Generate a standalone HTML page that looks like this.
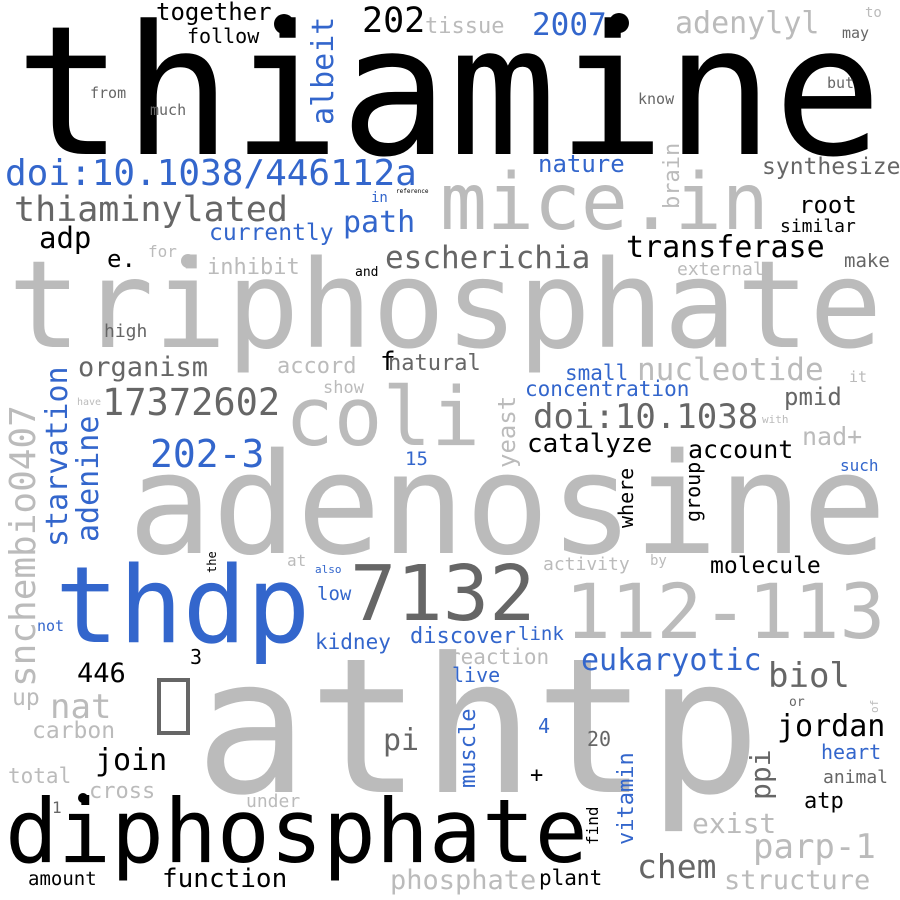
<!DOCTYPE html>
<html><head><meta charset="utf-8"><style>
html,body{margin:0;padding:0;background:#fff;}
svg{display:block;}
text{font-family:"DejaVu Sans Mono","Liberation Mono",monospace;}
</style></head><body>
<svg id="cloud" width="900" height="900" viewBox="0 0 900 900" xmlns="http://www.w3.org/2000/svg">
<rect width="900" height="900" fill="#fff"/>
<circle cx="284" cy="24" r="10" fill="#000"/>
<circle cx="619" cy="23" r="10" fill="#000"/>
<circle cx="188" cy="261" r="7" fill="#bbb"/>
<circle cx="83" cy="798" r="5" fill="#000"/>
<rect x="159" y="680" width="29" height="53" fill="none" stroke="#666" stroke-width="4"/>
</svg>
<script>
// word, x, baseline y, font size, color key, rotated
var K='#000',D='#666',L='#bbb',B='#3366cc';
var words=[
['thiamine',15,154,180,K,0],['triphosphate',8,347,121,L,0],['adenosine',128,553,140,L,0],
['athtp',195,792,188,L,0],['diphosphate',5,862,88,K,0],['thdp',55,642,106,B,0],
['7132',350,620,77,D,0],['112-113',565,638,76,L,0],['coli',285,445,81,L,0],
['mice.in',440,229,78,L,0],['doi:10.1038/446112a',5,185,36,B,0],['thiaminylated',14,221,35,D,0],
['17372602',102,415,37,D,0],['202-3',150,467,38,B,0],['doi:10.1038',533,428,34,D,0],
['escherichia',385,268,31,D,0],['nucleotide',637,380,31,L,0],['transferase',626,257,30,K,0],
['202',362,32,35,K,0],['2007',532,35,31,B,0],['adenylyl',675,33,30,L,0],['tissue',425,33,22,L,0],
['together',156,20,24,K,0],['follow',187,43,20,K,0],['nature',538,172,24,B,0],
['synthesize',762,174,23,D,0],['path',343,232,30,B,0],['currently',209,240,23,B,0],
['adp',39,248,29,K,0],['root',799,213,24,K,0],['similar',780,232,18,K,0],['e.',107,267,24,K,0],
['for',148,257,16,L,0],['inhibit',207,274,22,L,0],['and',355,276,13,K,0],['external',677,275,18,L,0],
['make',844,267,19,D,0],['high',104,337,18,D,0],['organism',78,376,27,D,0],['accord',277,373,22,L,0],
['f',380,370,26,K,0],['natural',388,370,22,D,0],['small',565,380,21,B,0],['concentration',525,396,21,B,0],
['it',849,382,15,L,0],['show',323,393,17,L,0],['pmid',784,405,24,D,0],['nad+',802,445,25,L,0],
['with',762,423,11,L,0],['have',77,405,10,L,0],['catalyze',527,452,26,K,0],['account',688,458,25,K,0],
['15',405,465,19,B,0],['such',840,471,16,B,0],['molecule',710,573,23,K,0],['activity',543,570,18,L,0],
['by',650,565,14,L,0],['at',287,566,16,L,0],['also',315,573,11,B,0],['low',317,600,19,B,0],
['not',37,631,15,B,0],['kidney',315,649,21,B,0],['discover',410,643,22,B,0],['link',518,640,19,B,0],
['3',190,664,20,K,0],['446',77,682,27,K,0],['reaction',448,664,21,L,0],['eukaryotic',581,670,30,B,0],
['live',452,682,20,B,0],['biol',768,687,34,D,0],['nat',50,718,34,L,0],['pi',383,750,30,D,0],
['4',538,733,20,B,0],['carbon',32,738,23,L,0],['20',587,746,20,D,0],['jordan',777,736,30,K,0],
['heart',821,759,20,B,0],['join',95,770,30,K,0],['total',8,783,21,L,0],['+',530,782,22,K,0],
['animal',823,783,18,D,0],['cross',89,798,22,L,0],['1',52,813,16,D,0],['under',246,807,18,L,0],
['atp',804,808,22,K,0],['exist',692,833,28,L,0],['parp-1',753,858,34,L,0],['chem',637,878,33,D,0],
['amount',28,885,19,K,0],['function',162,887,26,K,0],['phosphate',390,889,27,L,0],['plant',539,885,21,K,0],
['structure',724,889,27,L,0],['to',865,17,14,L,0],['may',842,38,15,D,0],['but',827,88,15,D,0],
['know',638,104,15,D,0],['from',90,98,15,D,0],['much',150,115,15,D,0],['in',371,202,14,B,0],
['reference',396,193,6,K,0],['or',789,706,13,D,0],['up',12,705,23,L,0],
// rotated: x = baseline x, y = bottom end
['albeit',333,125,30,B,1],['brain',679,209,22,L,1],['starvation',67,547,30,B,1],
['snchembio0407',35,687,36,L,1],['adenine',98,542,30,B,1],['yeast',515,468,24,L,1],
['where',633,528,20,K,1],['group',700,522,20,K,1],['the',216,573,12,K,1],['muscle',475,788,22,B,1],
['ppi',770,800,28,D,1],['vitamin',633,845,22,B,1],['find',598,845,16,K,1],
['of',878,713,11,L,1]
];
var svg=document.getElementById('cloud');
words.forEach(function(w){
  var t=document.createElementNS('http://www.w3.org/2000/svg','text');
  t.setAttribute('x',w[1]);t.setAttribute('y',w[2]);
  t.setAttribute('font-size',w[3]);t.setAttribute('fill',w[4]);
  if(w[5]) t.setAttribute('transform','rotate(-90 '+w[1]+' '+w[2]+')');
  t.textContent=w[0];
  
  
  svg.appendChild(t);
});
</script>
</body></html>
